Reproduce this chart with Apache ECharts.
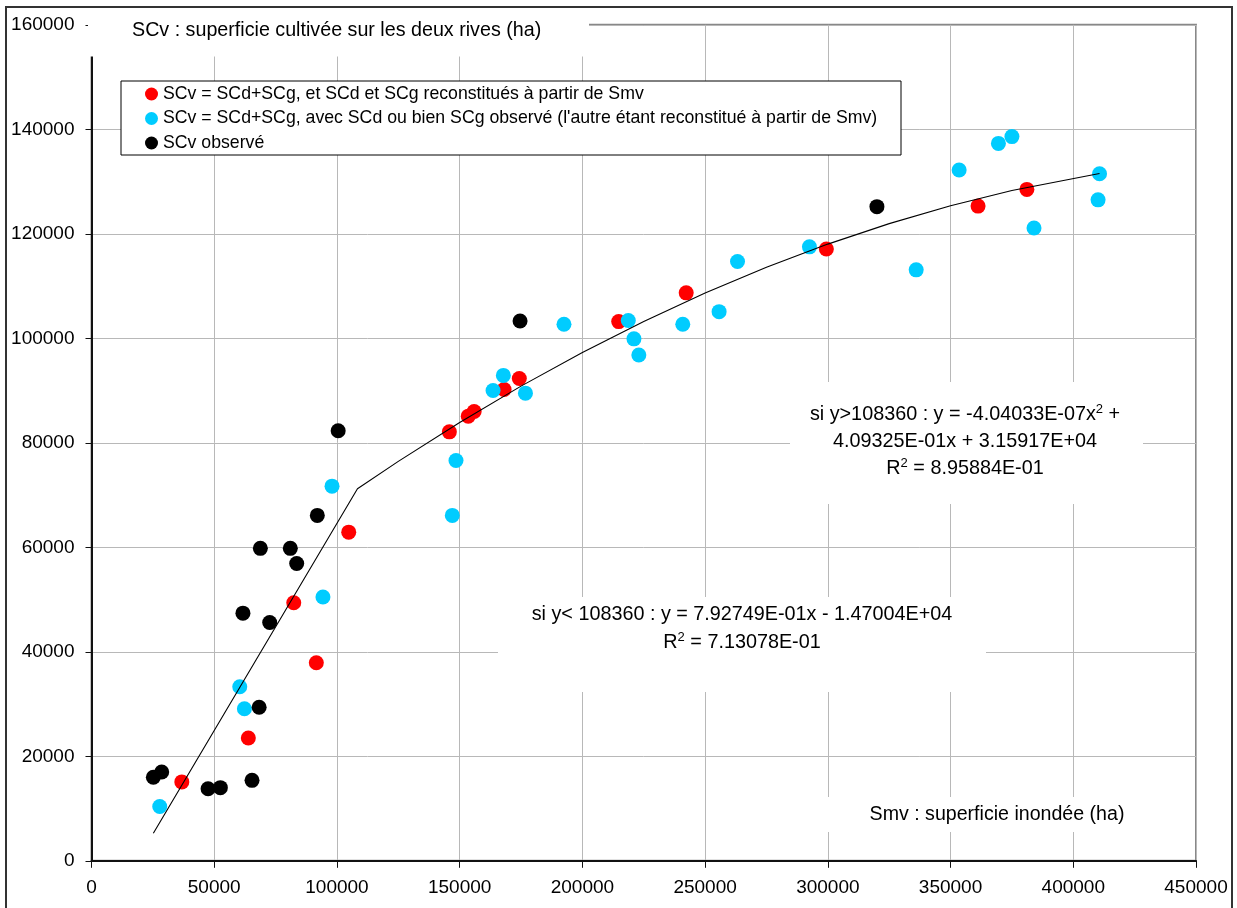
<!DOCTYPE html>
<html><head><meta charset="utf-8">
<script src="https://cdn.jsdelivr.net/npm/echarts@6/dist/echarts.min.js"></script>
<style>html,body{margin:0;padding:0;background:#fff}#c{width:1237px;height:908px}</style>
</head><body><div id="c"></div>
<script>
// ---------- data ----------
const seriesNames = [
  'SCv = SCd+SCg, et SCd et SCg reconstitués à partir de Smv',
  "SCv = SCd+SCg, avec SCd ou bien SCg observé (l'autre étant reconstitué à partir de Smv)",
  'SCv observé'
];
// [Smv, SCv]
const redPts = [
  [36800,15100],[63900,23500],[82400,49400],[91600,37900],[104800,62900],
  [145800,82100],[153500,85100],[155900,86000],[168100,90200],[174300,92300],
  [214800,103200],[242300,108700],[299400,117100],[361200,125300],[381100,128500]
];
const cyanPts = [
  [27800,10400],[60400,33300],[62300,29100],[94300,50500],[98000,71700],
  [147000,66100],[148500,76600],[163600,90000],[167800,92900],[176800,89500],
  [192500,102700],[218700,103400],[221000,99900],[223000,96800],[240900,102700],
  [255700,105100],[263200,114700],[292500,117500],[336000,113100],[353500,132200],
  [369500,137300],[375000,138600],[384000,121100],[410700,131500],[410100,126500]
];
const blackPts = [
  [25200,16000],[28600,17000],[47500,13800],[52500,14000],[65400,15400],
  [68300,29400],[61700,47400],[72600,45600],[68800,59800],[81000,59800],
  [83600,56900],[92000,66100],[100500,82300],[174600,103300],[320000,125200]
];
const trendSmv = [25200,108360,125000,150000,175000,200000,225000,250000,275000,300000,325000,350000,375000,410700];
const trendSCv = [5277,71202,76445,83900,90850,97296,103236,108671,113601,118027,121947,125362,128272,131550];

const xMin = 0, xMax = 450000, xStep = 50000;
const yMin = 0, yMax = 160000, yStep = 20000;

const yTitle = 'SCv : superficie cultivée sur les deux rives (ha)';
const xTitle = 'Smv : superficie inondée (ha)';
const eqHigh = ['si y>108360 : y = -4.04033E-07x{sup|2} +', '4.09325E-01x + 3.15917E+04', 'R{sup|2} = 8.95884E-01'];
const eqLow = ['si y< 108360 : y = 7.92749E-01x - 1.47004E+04', 'R{sup|2} = 7.13078E-01'];

// ---------- chart ----------
const FONT = '"Liberation Sans", Arial, sans-serif';
const chart = echarts.init(document.getElementById('c'), null, {renderer: 'canvas'});
const trend = trendSmv.map((x, i) => [x, trendSCv[i]]);
const sup = {fontSize: 13, fontFamily: FONT, padding: [0, 0, 11, 0], color: '#000'};
const plain = v => String(v);

const option = {
  animation: false,
  backgroundColor: '#fff',
  grid: {left: 91.5, right: 41, top: 24.8, bottom: 47.2, show: true, borderColor: '#888', borderWidth: 2, backgroundColor: 'transparent'},
  xAxis: {
    type: 'value', min: xMin, max: xMax, interval: xStep, z: 1,
    axisLine: {show: true, lineStyle: {color: '#111', width: 2}},
    axisTick: {show: true, inside: false, length: 7, lineStyle: {color: '#111', width: 1}},
    axisLabel: {color: '#000', fontFamily: FONT, fontSize: 19, margin: 17, formatter: plain},
    splitLine: {show: true, lineStyle: {color: '#b8b8b8', width: 1}}
  },
  yAxis: {
    type: 'value', min: yMin, max: yMax, interval: yStep, z: 1,
    axisLine: {show: true, lineStyle: {color: '#111', width: 2}},
    axisTick: {show: true, inside: false, length: 6, lineStyle: {color: '#111', width: 1}},
    axisLabel: {color: '#000', fontFamily: FONT, fontSize: 19, margin: 17, formatter: plain},
    splitLine: {show: true, lineStyle: {color: '#b8b8b8', width: 1}}
  },
  legend: {
    data: seriesNames, orient: 'vertical', left: 121, top: 81, z: 20,
    padding: [3, 0, 0, 24], itemGap: 4.5, itemWidth: 13, itemHeight: 13,
    icon: 'circle',
    textStyle: {color: '#000', fontFamily: FONT, fontSize: 17.7, lineHeight: 20}
  },
  graphic: [
    {type: 'rect', z: 10, shape: {x: 6, y: 7, width: 1226, height: 960}, style: {fill: null, stroke: '#333', lineWidth: 2}},
    {type: 'rect', z: 10, shape: {x: 88, y: 9, width: 501, height: 47.5}, style: {fill: '#fff'}},
    {type: 'text', z: 11, x: 132, y: 31, style: {text: yTitle, font: '19.7px ' + FONT, fill: '#000', textVerticalAlign: 'middle'}},
    {type: 'rect', z: 10, shape: {x: 121, y: 81, width: 780, height: 74}, style: {fill: '#fff', stroke: '#000', lineWidth: 1}},
    {type: 'rect', z: 10, shape: {x: 790, y: 382, width: 353, height: 122}, style: {fill: '#fff'}},
    {type: 'text', z: 11, x: 965, y: 442, style: {text: eqHigh.join('\n'), fill: '#000', fontFamily: FONT, fontSize: 19.8, lineHeight: 27, align: 'center', verticalAlign: 'middle', rich: {sup: sup}}},
    {type: 'rect', z: 10, shape: {x: 498, y: 597, width: 488, height: 95}, style: {fill: '#fff'}},
    {type: 'text', z: 11, x: 742, y: 629, style: {text: eqLow.join('\n'), fill: '#000', fontFamily: FONT, fontSize: 19.8, lineHeight: 28, align: 'center', verticalAlign: 'middle', rich: {sup: sup}}},
    {type: 'rect', z: 10, shape: {x: 805, y: 797, width: 385, height: 35}, style: {fill: '#fff'}},
    {type: 'text', z: 11, x: 997, y: 815, style: {text: xTitle, font: '19.6px ' + FONT, fill: '#000', textAlign: 'center', textVerticalAlign: 'middle'}}
  ],
  series: [
    {name: seriesNames[0], type: 'scatter', data: redPts, symbol: 'circle', symbolSize: 15, z: 2, itemStyle: {color: '#ff0000', opacity: 1}},
    {name: seriesNames[1], type: 'scatter', data: cyanPts, symbol: 'circle', symbolSize: 15, z: 3, itemStyle: {color: '#00ccff', opacity: 1}},
    {name: seriesNames[2], type: 'scatter', data: blackPts, symbol: 'circle', symbolSize: 15, z: 4, itemStyle: {color: '#000000', opacity: 1}},
    {name: 'trend', type: 'line', data: trend, showSymbol: false, symbol: 'none', z: 5, lineStyle: {color: '#000', width: 1.1}, silent: true}
  ]
};
chart.setOption(option);
</script>
</body></html>
